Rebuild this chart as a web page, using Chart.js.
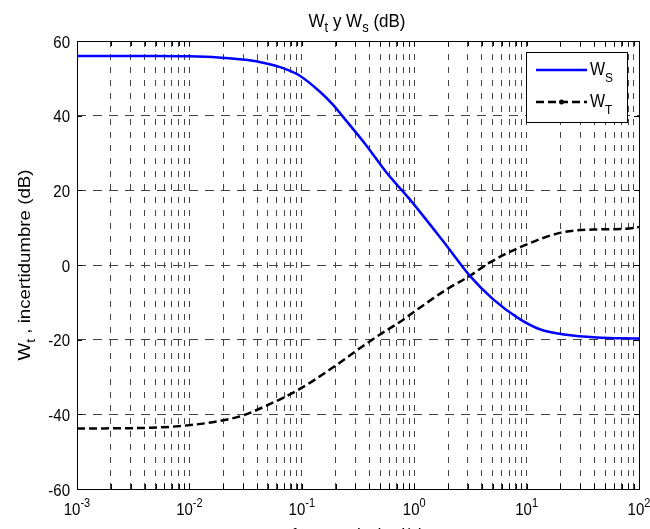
<!DOCTYPE html>
<html><head><meta charset="utf-8">
<script src="https://cdn.jsdelivr.net/npm/chart.js@4/dist/chart.umd.min.js"></script>
<style>html,body{margin:0;padding:0;background:#fff;overflow:hidden}</style>
</head><body>
<canvas id="c" width="650" height="529"></canvas>
<script>
// ---- data ----
const wsFreq = [0.001,0.005,0.01,0.018,0.028,0.042,0.064,0.096,0.145,0.19,0.234,0.378,0.569,0.918,1.95,3.13,5.05,8.7,13.1,22.7,42,100];
const wsDb   = [56.0,56.0,55.9,55.6,55.1,54.4,53.0,50.7,46.4,42.9,39.6,31.9,24.7,17.5,5.1,-2.9,-9.2,-14.5,-17.2,-18.7,-19.4,-19.7];
const wtFreq = [0.001,0.0045,0.0108,0.02,0.03,0.049,0.096,0.19,0.378,0.497,0.75,0.98,1.95,3.13,4.72,9.3,19.8,39,77,100];
const wtDb   = [-43.8,-43.6,-42.8,-41.6,-40.3,-37.6,-33.2,-27.4,-21.0,-18.6,-15.2,-12.7,-6.5,-2.9,0.7,5.1,8.6,9.5,9.7,10.2];
const xMajorTicks = [0.001,0.01,0.1,1,10,100];
const xTickExponents = ['-3','-2','-1','0','1','2'];
const yTicks = [-60,-40,-20,0,20,40,60];
const yTickLabels = ['-60','-40','-20','0','20','40','60'];
const legendMain = ['W','W'];
const legendSub = ['S','T'];
const titleParts = [['W',0],['t',1],[' y W',0],['s',1],[' (dB)',0]];
const yLabelParts = [['W',0],['t',1],[' , incertidumbre (dB)',0]];
const xLabelText = 'frecuencia (rad/s)';

// all log grid positions (1..9 x 10^n)
const xGridValues = [];
for (let e = -3; e < 2; e++) for (let m = 1; m < 10; m++) xGridValues.push(+(m * Math.pow(10, e)).toPrecision(3));
xGridValues.push(100);

const FONT = '"Liberation Sans", Arial, Helvetica, sans-serif';
const SY = 1.1;

function richWidth(ctx, parts, size, subSize) {
  let w = 0;
  for (const [t, s] of parts) { ctx.font = (s ? subSize : size) + 'px ' + FONT; w += ctx.measureText(t).width; }
  return w;
}
// draw rich text at origin (caller transforms), baseline at 0
function drawRich(ctx, parts, size, subSize, subDy, align) {
  const w = richWidth(ctx, parts, size, subSize);
  let x = align === 'left' ? 0 : -w / 2;
  ctx.textAlign = 'left'; ctx.textBaseline = 'alphabetic'; ctx.fillStyle = '#000';
  for (const [t, s] of parts) {
    ctx.font = (s ? subSize : size) + 'px ' + FONT;
    ctx.fillText(t, x, s ? subDy : 0);
    x += ctx.measureText(t).width;
  }
}

const matlabPlugin = {
  id: 'matlab',
  afterDraw(chart) {
    const ctx = chart.ctx;
    const a = chart.chartArea;
    const xs = chart.scales.x, ys = chart.scales.y;
    const L = Math.round(a.left), R = Math.round(a.right), T = Math.round(a.top), B = Math.round(a.bottom);
    ctx.save();
    // box
    ctx.strokeStyle = '#000'; ctx.lineWidth = 1; ctx.setLineDash([]);
    ctx.strokeRect(L + 0.5, T + 0.5, R - L, B - T);
    // tick marks (inside)
    ctx.beginPath();
    for (const v of xGridValues) {
      const px = Math.round(xs.getPixelForValue(v)) + 0.5;
      ctx.moveTo(px, B); ctx.lineTo(px, B - 5);
      ctx.moveTo(px, T); ctx.lineTo(px, T + 5);
    }
    for (const v of yTicks) {
      const py = Math.round(ys.getPixelForValue(v)) + 0.5;
      ctx.moveTo(L, py); ctx.lineTo(L + 5, py);
      ctx.moveTo(R, py); ctx.lineTo(R - 5, py);
    }
    ctx.stroke();
    // y tick labels
    yTicks.forEach((v, i) => {
      const py = ys.getPixelForValue(v);
      ctx.save(); ctx.translate(L - 7, py + 6.5); ctx.scale(1, SY);
      ctx.font = '15px ' + FONT; ctx.textAlign = 'right'; ctx.textBaseline = 'alphabetic'; ctx.fillStyle = '#000';
      ctx.fillText(yTickLabels[i], 0, 0); ctx.restore();
    });
    // x tick labels 10^n
    xMajorTicks.forEach((v, i) => {
      const px = xs.getPixelForValue(v);
      ctx.font = '15px ' + FONT; const wb = ctx.measureText('10').width;
      ctx.font = '11px ' + FONT; const we = ctx.measureText(xTickExponents[i]).width;
      const x0 = px - (wb + we) / 2;
      ctx.save(); ctx.translate(x0, B + 26); ctx.scale(1, SY);
      ctx.fillStyle = '#000'; ctx.textAlign = 'left'; ctx.textBaseline = 'alphabetic';
      ctx.font = '15px ' + FONT; ctx.fillText('10', 0, 0);
      ctx.font = '11px ' + FONT; ctx.fillText(xTickExponents[i], wb, -7.5);
      ctx.restore();
    });
    // title
    ctx.save(); ctx.translate((L + R) / 2 - 1, 27); ctx.scale(1, SY);
    drawRich(ctx, titleParts, 17, 13, 4.5, 'center'); ctx.restore();
    // y label
    ctx.save(); ctx.translate(30, (T + B) / 2); ctx.rotate(-Math.PI / 2); ctx.scale(SY, 1);
    drawRich(ctx, yLabelParts, 17, 13, 4.5, 'center'); ctx.restore();
    // x label
    ctx.save(); ctx.translate((L + R) / 2, B + 52); ctx.scale(1, SY);
    drawRich(ctx, [[xLabelText, 0]], 17, 13, 0, 'center'); ctx.restore();
    // legend
    const lx = R - 113, ly = T + 11, lw = 101, lh = 70;
    ctx.fillStyle = '#fff'; ctx.fillRect(lx, ly, lw, lh);
    ctx.strokeStyle = '#000'; ctx.lineWidth = 1; ctx.strokeRect(lx + 0.5, ly + 0.5, lw, lh);
    const ds = chart.data.datasets;
    [18, 50].forEach((dy, i) => {
      const d = ds[i];
      ctx.save();
      ctx.strokeStyle = d.borderColor; ctx.lineWidth = 2.5; ctx.setLineDash(d.borderDash || []);
      ctx.beginPath(); ctx.moveTo(lx + 10, ly + dy); ctx.lineTo(lx + 61, ly + dy); ctx.stroke();
      if (i === 1) { ctx.setLineDash([]); ctx.fillStyle = '#000'; ctx.beginPath(); ctx.arc(lx + 35.5, ly + dy, 2.5, 0, Math.PI * 2); ctx.fill(); }
      ctx.restore();
      ctx.save(); ctx.translate(lx + 64, ly + dy + 5); ctx.scale(1, SY);
      drawRich(ctx, [[legendMain[i], 0], [legendSub[i], 1]], 16, 12, 6, 'left'); ctx.restore();
    });
    ctx.restore();
  }
};

new Chart(document.getElementById('c').getContext('2d'), {
  type: 'line',
  data: {
    datasets: [
      { label: 'W_S', data: wsFreq.map((f, i) => ({ x: f, y: wsDb[i] })), borderColor: '#0000ff', borderWidth: 2.5,
        pointRadius: 0, fill: false, cubicInterpolationMode: 'monotone' },
      { label: 'W_T', data: wtFreq.map((f, i) => ({ x: f, y: wtDb[i] })), borderColor: '#000000', borderWidth: 2.5,
        borderDash: [8, 4], pointRadius: 0, fill: false, cubicInterpolationMode: 'monotone' }
    ]
  },
  options: {
    responsive: false, animation: false, devicePixelRatio: 1,
    layout: { padding: { left: 77, right: 11, top: 41, bottom: 40 } },
    plugins: { legend: { display: false }, title: { display: false }, tooltip: { enabled: false } },
    scales: {
      x: { type: 'logarithmic', min: 0.001, max: 100,
        afterBuildTicks: s => { s.ticks = xGridValues.map(v => ({ value: v })); },
        ticks: { display: false },
        grid: { color: '#444', lineWidth: 1, drawTicks: false },
        border: { display: false, dash: [6, 7] } },
      y: { type: 'linear', min: -60, max: 60,
        afterBuildTicks: s => { s.ticks = yTicks.map(v => ({ value: v })); },
        ticks: { display: false },
        grid: { color: '#444', lineWidth: 1, drawTicks: false },
        border: { display: false, dash: [9, 7] } }
    }
  },
  plugins: [matlabPlugin]
});
</script>
</body></html>
